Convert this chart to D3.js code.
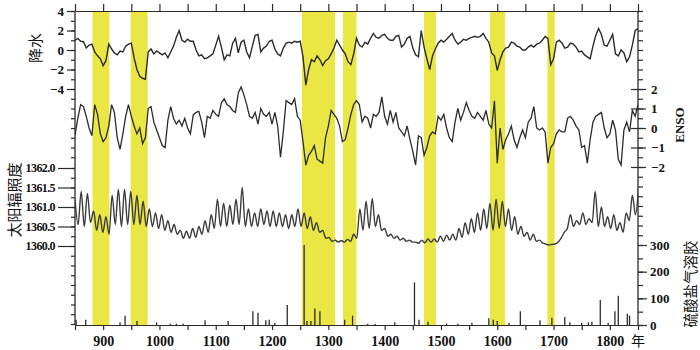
<!DOCTYPE html>
<html lang="zh">
  <head>
    <meta charset="utf-8">
    <title>降水 ENSO 太阳辐照度 硫酸盐气溶胶</title>
    <style>
      body { margin: 0; background: #fff; }
    </style>
  </head>
  <body>
    <div id="chart-area"></div>
    <script src="https://cdn.jsdelivr.net/npm/d3@7/dist/d3.min.js"></script>
    <script>
      // yellow bands (years)
      const band_start = [881, 949, 1253, 1326, 1470, 1587, 1689];
      const band_end   = [911, 979, 1312, 1350, 1491, 1614, 1702];

      // precipitation, 850-1850 every 5 years
      const precip_start = 850, precip_step = 5;
      const precip = [
        1.0, 1.2, 0.9, 0.85, 0.2, 0.5, 0.6, -0.2, -0.6, -0.9,
        -1.6, -1.1, 0.6, 0.1, -0.3, -0.5, -0.1, -0.2, 0.4, 0.6,
        0.7, -0.8, -2.0, -2.7, -2.9, -3.0, -0.2, 0.1, -0.4, -0.1,
        -0.3, -0.5, -0.3, -0.8, -0.2, 0.4, 1.3, 2.0, 1.0, 0.8,
        1.1, 0.9, 0.9, 0.0, -0.6, -0.5, -0.9, -0.8, -0.6, -0.4,
        0.5, 1.4, 0.3, -1.0, -0.5, -0.6, 0.7, 1.2, -0.3, 0.8,
        1.0, -0.2, -0.8, 0.4, 1.5, 1.6, -0.2, 0.2, 0.4, 0.9,
        1.0, 0.1, -0.4, -0.6, 0.2, 0.7, 0.8, 0.7, 0.9, 0.8,
        0.9, -0.7, -3.6, -2.0, -1.0, -1.2, -0.6, -1.0, -1.6, -1.1,
        -0.9, -0.4, 0.2, 1.0, 0.5, 0.0, -0.4, -1.2, -1.5, -0.4,
        1.2, 0.5, 0.3, 0.8, 0.6, 1.2, 1.7, 1.3, 1.2, 1.5,
        1.6, 1.2, 1.0, 1.0, 1.4, 1.5, 0.3, 0.6, 1.2, 1.4,
        0.2, -0.5, -0.7, 2.0, 0.3, -0.9, -2.0, -0.6, 0.1, 0.7,
        1.0, 0.8, 1.1, 1.4, 1.7, 1.0, 0.6, 0.8, 1.1, 1.0,
        1.2, 1.3, 1.4, 1.3, 1.4, 1.7, 1.2, 0.8, -0.3, -0.6,
        -2.1, -1.0, -0.2, 0.2, 0.3, 0.8, 0.7, 0.4, 0.3, 0.0,
        0.0, 0.3, 0.5, 0.3, 0.6, 0.7, 1.0, 1.4, 1.2, -1.5,
        -0.9, 0.8, 1.0, 0.7, 0.2, 0.3, 0.7, 0.6, 0.3, -0.2,
        -0.1, -0.5, -0.7, -0.9, 0.4, 1.5, 2.2, 1.6, 0.5, 0.4,
        1.0, 1.6, -0.4, -0.6, 0.0, -0.3, -1.2, -0.7, 0.5, 2.0,
        2.2
      ];

      // ENSO, 850-1850 every 5 years
      const enso_start = 850, enso_step = 5;
      const enso = [
        -0.36, 0.5, 1.2, 1.1, 0.6, 0.0, -0.4, 1.2, 0.7, -0.3,
        -0.7, -0.5, 0.1, 1.2, 0.8, -0.5, -1.1, -0.3, 0.6, 1.2,
        0.6, 0.1, -0.3, 0.0, -0.8, -0.5, 1.0, 1.1, 0.3, -0.1,
        -0.5, -0.9, -1.0, 0.4, 1.1, 0.5, 0.2, 0.4, 0.1, 0.5,
        0.0, -0.3, 0.67, 0.8, 0.85, 0.3, -0.5, 0.6, 0.5, 0.9,
        0.7, 0.6, 1.3, 1.5, 1.2, 1.1, 0.9, 0.8, 1.8, 2.1,
        1.7, 1.2, 0.6, 0.5, 0.8, 0.2, 1.0, 0.7, 0.6, 0.8,
        0.2, 0.8, 0.1, -1.5, -0.2, 1.4, 1.3, 1.2, 1.5, 0.6,
        0.4, -0.7, -1.9, -1.4, -1.2, -0.9, -1.6, -1.7, -1.8, -0.5,
        0.1, 0.9, 0.7, 0.5, 0.1, -0.7, -0.6, 0.0, 0.7, 1.2,
        1.4, 1.2, 0.3, 0.6, 0.5, 0.0, 0.7, 0.6, 0.8, 1.6,
        0.6, 0.2, 0.9, 0.3, 0.8, 0.0, -0.2, -0.4, 0.1, -0.6,
        -1.2, -1.9, -0.4, -0.5, -1.4, -1.0, -0.4, -0.2, -0.3, 0.6,
        0.4, 0.7, 0.0, -0.5, -0.7, 0.3, 1.0, 0.4, 0.8, 1.3,
        0.9, 0.6, 0.5, 0.8, 0.6, 0.4, 0.9, 0.2, 0.0, 1.4,
        -1.8, 0.0, -1.1, -0.6, -0.3, 0.1, -0.6, -1.0, -0.5, -0.1,
        -0.5, 0.3, 0.5, 1.1, 0.0, -0.1, 0.0, -0.2, -1.8, -1.0,
        -0.8, -0.3, -0.1, -0.2, -0.2, 0.5, 0.6, 0.4, 0.1, -0.1,
        -1.0, -0.9, -1.8, -0.6, 0.3, 0.6, 0.7, 0.8, 0.0, -0.5,
        -0.3, 0.4, -0.1, -1.6, -1.9, -0.1, 0.3, -0.2, 0.9, 0.6,
        1.2
      ];

      // solar irradiance, peaks and troughs every 5.5 years from 850
      const solar_start = 850, solar_step = 5.5;
      const solar = [
        1361.2, 1360.55, 1361.4, 1360.5, 1361.35, 1360.6, 1360.9,
        1360.4, 1360.8, 1360.35, 1360.75, 1360.3,
        1361.3, 1360.55, 1361.45, 1360.5, 1361.45, 1360.55, 1361.4,
        1360.55, 1361.3, 1360.55, 1361.15, 1360.5,
        1360.95, 1360.5, 1360.85, 1360.45, 1360.8, 1360.4, 1360.65, 1360.35, 1360.55,
        1360.3, 1360.4, 1360.2, 1360.38, 1360.2,
        1360.45, 1360.22, 1360.5, 1360.3, 1360.65, 1360.35, 1360.8, 1360.45,
        1361.2, 1360.5, 1361.1, 1360.5, 1361.05, 1360.55, 1361.2, 1360.55,
        1361.5, 1360.5,
        1360.95, 1360.5, 1360.85, 1360.5, 1360.95, 1360.55, 1360.9, 1360.5, 1360.9,
        1360.5, 1360.85, 1360.5, 1360.8, 1360.45, 1360.8, 1360.5, 1360.95, 1360.5,
        1360.85, 1360.45, 1360.75, 1360.4, 1360.6, 1360.35, 1360.4, 1360.2, 1360.22, 1360.12, 1360.15, 1360.1,
        1360.14, 1360.1, 1360.17, 1360.12, 1360.3, 1360.2,
        1360.95, 1360.4, 1361.15, 1360.45, 1361.22, 1360.5, 1360.8, 1360.4, 1360.45, 1360.25,
        1360.3, 1360.2, 1360.25, 1360.15, 1360.2, 1360.12, 1360.15, 1360.1, 1360.1, 1360.07, 1360.15,
        1360.08, 1360.18, 1360.1, 1360.18, 1360.1,
        1360.25, 1360.12, 1360.28, 1360.15, 1360.3, 1360.15, 1360.45, 1360.22, 1360.6, 1360.3, 1360.7,
        1360.35, 1360.85, 1360.4, 1360.95, 1360.45, 1361.1, 1360.4, 1361.2, 1360.45, 1361.15, 1360.5, 1360.95,
        1360.4, 1360.75, 1360.3, 1360.5, 1360.25, 1360.35, 1360.15, 1360.3, 1360.12, 1360.15,
        1360.08, 1360.05, 1360.03, 1360.04, 1360.05, 1360.1,
        1360.2, 1360.35, 1360.45, 1360.8, 1360.5, 1360.65, 1360.55, 1360.85, 1360.55, 1360.7, 1360.6, 1361.4,
        1360.5, 1361.0, 1360.5, 1360.75, 1360.45, 1360.8, 1360.4, 1360.6,
        1360.35, 1360.85, 1360.65, 1361.3, 1360.8, 1361.5
      ];

      // volcanic sulfate aerosol spikes
      const volc_years = [852, 869, 930, 939, 960, 995, 1019, 1030, 1042, 1081, 1122, 1166, 1175, 1189,
        1195, 1205, 1227, 1257, 1262, 1269, 1276, 1285, 1329, 1343, 1370, 1383, 1418, 1453, 1461,
        1477, 1510, 1530, 1555, 1585, 1593, 1600, 1621, 1641, 1676, 1697, 1720, 1729, 1750, 1762,
        1768, 1783, 1797, 1809, 1815, 1831, 1835];
      const volc_values = [20, 20, 10, 35, 15, 10, 5, 5, 5, 18, 15, 52, 46, 18,
        20, 8, 75, 300, 15, 15, 62, 52, 20, 35, 5, 5, 10, 160, 20,
        12, 5, 5, 8, 25, 20, 15, 8, 52, 18, 27, 30, 10, 8, 10,
        12, 94, 8, 52, 110, 42, 35];

      const year_labels = [900, 1000, 1100, 1200, 1300, 1400, 1500, 1600, 1700, 1800];

      const svg_width = 700;
      const svg_height = 350;
      const plot_left = 75, plot_right = 638, plot_top = 11, plot_bottom = 325;
      const ink = '#2b2b2b';
      const num_font = '"Liberation Serif", "DejaVu Serif", serif';
      const cjk_font = '"Noto Sans CJK SC", sans-serif';

      const svg = d3.select('#chart-area')
        .append('svg')
        .attr('width', svg_width)
        .attr('height', svg_height);

      const x_scale = d3.scaleLinear().domain([850, 1850]).range([plot_left, plot_right]);
      const y_precip = d3.scaleLinear().domain([-4, 4]).range([89, 11]);
      const y_enso = d3.scaleLinear().domain([-2, 2]).range([167, 89]);
      const y_solar = d3.scaleLinear().domain([1360, 1362]).range([246, 168]);
      const y_sulfate = d3.scaleLinear().domain([0, 300]).range([325, 245]);

      svg.append('clipPath').attr('id', 'plot-clip')
        .append('rect')
        .attr('x', plot_left).attr('y', plot_top)
        .attr('width', plot_right - plot_left).attr('height', plot_bottom - plot_top);

      // bands
      svg.selectAll('rect.band').data(band_start).enter()
        .append('rect')
        .attr('class', 'band')
        .attr('x', d => x_scale(d))
        .attr('y', plot_top)
        .attr('width', (d, i) => x_scale(band_end[i]) - x_scale(d))
        .attr('height', plot_bottom - plot_top)
        .attr('fill', '#eae745');

      const plot = svg.append('g').attr('clip-path', 'url(#plot-clip)');

      const precip_line = d3.line()
        .x((d, i) => x_scale(precip_start + i * precip_step))
        .y(d => y_precip(d));
      const enso_line = d3.line()
        .x((d, i) => x_scale(enso_start + i * enso_step))
        .y(d => y_enso(d));
      const solar_line = d3.line()
        .x((d, i) => x_scale(solar_start + i * solar_step))
        .y(d => y_solar(d))
        .curve(d3.curveMonotoneX);

      plot.append('path').datum(precip)
        .attr('d', precip_line)
        .attr('fill', 'none').attr('stroke', ink).attr('stroke-width', 1.4);
      plot.append('path').datum(enso)
        .attr('d', enso_line)
        .attr('fill', 'none').attr('stroke', ink).attr('stroke-width', 1.3);
      plot.append('path').datum(solar)
        .attr('d', solar_line)
        .attr('fill', 'none').attr('stroke', '#3a3a3a').attr('stroke-width', 1.4);

      plot.selectAll('line.volc').data(volc_years).enter()
        .append('line')
        .attr('x1', d => x_scale(d))
        .attr('x2', d => x_scale(d))
        .attr('y1', y_sulfate(0))
        .attr('y2', (d, i) => y_sulfate(volc_values[i]))
        .attr('stroke', ink).attr('stroke-width', 1.3);

      const style_axis = (g, size, spacing) => {
        g.selectAll('line, path').attr('stroke', ink).attr('stroke-width', 1.2);
        g.selectAll('text')
          .attr('fill', '#111')
          .attr('font-family', num_font)
          .attr('font-weight', 'bold')
          .attr('letter-spacing', spacing || 0)
          .attr('font-size', size);
      };
      const no_domain = g => g.select('.domain').remove();

      // left axis
      svg.append('line').attr('x1', plot_left).attr('x2', plot_left).attr('y1', plot_top).attr('y2', plot_bottom)
        .attr('stroke', ink).attr('stroke-width', 1.3);
      svg.append('g').attr('transform', `translate(${plot_left},0)`)
        .call(d3.axisLeft(y_precip).tickValues(d3.range(-11, 5, 1)).tickSize(4).tickFormat(''))
        .call(no_domain).call(g => style_axis(g, 12));
      svg.append('g').attr('transform', `translate(${plot_left},0)`)
        .call(d3.axisLeft(y_precip).tickValues([-4, -2, 0, 2, 4]).tickSize(8).tickPadding(3).tickFormat(d3.format('d')))
        .call(no_domain).call(g => style_axis(g, 13));
      svg.append('g').attr('transform', `translate(${plot_left},0)`)
        .call(d3.axisLeft(y_solar).tickValues(d3.range(1358, 1362.01, 0.25)).tickSize(4).tickFormat(''))
        .call(no_domain).call(g => style_axis(g, 12));
      svg.append('g').attr('transform', `translate(${plot_left},0)`)
        .call(d3.axisLeft(y_solar).tickValues([1360, 1360.5, 1361, 1361.5, 1362]).tickSize(17).tickPadding(3).tickFormat(d3.format('.1f')))
        .call(no_domain).call(g => style_axis(g, 12, -0.6));

      // right axis
      svg.append('line').attr('x1', plot_right).attr('x2', plot_right).attr('y1', plot_top).attr('y2', plot_bottom)
        .attr('stroke', ink).attr('stroke-width', 1.3);
      svg.append('g').attr('transform', `translate(${plot_right},0)`)
        .call(d3.axisRight(y_enso).tickValues(d3.range(-5.5, 6.01, 0.5)).tickSize(5).tickFormat(''))
        .call(no_domain).call(g => style_axis(g, 12));
      svg.append('g').attr('transform', `translate(${plot_right},0)`)
        .call(d3.axisRight(y_enso).tickValues([-2, -1, 0, 1, 2]).tickSize(8).tickPadding(5).tickFormat(d3.format('d')))
        .call(no_domain).call(g => style_axis(g, 13))
        .call(g => g.selectAll('.tick line').attr('x1', -7));
      svg.append('g').attr('transform', `translate(${plot_right},0)`)
        .call(d3.axisRight(y_sulfate).tickValues(d3.range(0, 301, 50)).tickSize(5).tickFormat(''))
        .call(no_domain).call(g => style_axis(g, 12));
      svg.append('g').attr('transform', `translate(${plot_right},0)`)
        .call(d3.axisRight(y_sulfate).tickValues([0, 100, 200, 300]).tickSize(9).tickPadding(3).tickFormat(d3.format('d')))
        .call(no_domain).call(g => style_axis(g, 13));

      // top and bottom axes
      svg.append('g').attr('transform', `translate(0,${plot_top})`)
        .call(d3.axisTop(x_scale).tickValues(d3.range(850, 1851, 50)).tickSize(7).tickSizeOuter(0).tickFormat(''))
        .call(g => style_axis(g, 12));
      svg.append('g').attr('transform', `translate(0,${plot_bottom})`)
        .call(d3.axisBottom(x_scale).tickValues(d3.range(850, 1851, 50)).tickSize(5).tickSizeOuter(0)
          .tickPadding(6).tickFormat(d => year_labels.includes(d) ? d : ''))
        .call(g => style_axis(g, 14));

      svg.append('text')
        .text('年')
        .attr('x', 631).attr('y', 346)
        .attr('font-family', cjk_font).attr('font-size', 14).attr('fill', '#111');

      // axis titles
      const title = (txt, x, y, size, font, weight) => {
        svg.append('text')
          .text(txt)
          .attr('transform', `translate(${x},${y}) rotate(-90)`)
          .attr('text-anchor', 'middle')
          .attr('dominant-baseline', 'central')
          .attr('font-family', font)
          .attr('font-size', size)
          .attr('font-weight', weight)
          .attr('fill', '#111');
      };
      title('降水', 34, 48, 15, cjk_font, 'normal');
      title('太阳辐照度', 13, 200, 15, cjk_font, 'normal');
      title('ENSO', 679, 125, 13, num_font, 'bold');
      title('硫酸盐气溶胶', 689, 284, 14.5, cjk_font, 'normal');
    </script>
  </body>
</html>
